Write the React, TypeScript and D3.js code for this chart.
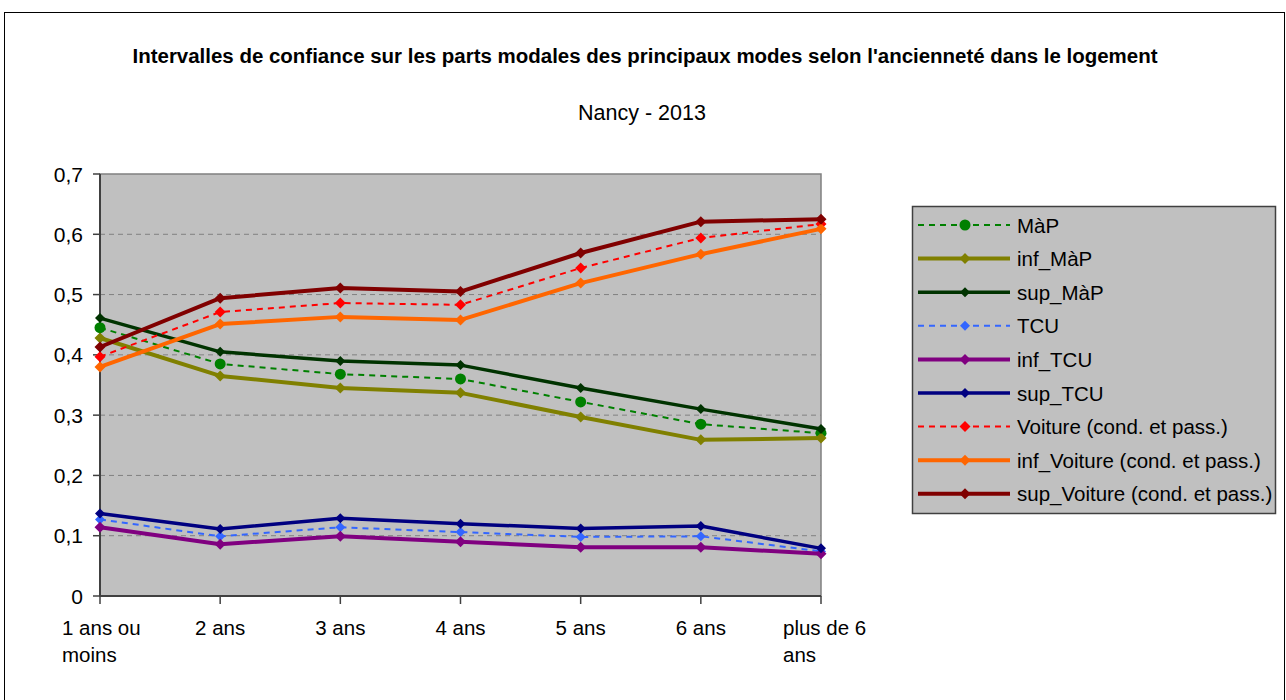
import React from "react";
import * as d3 from "d3";

const categories = ["1 ans ou\nmoins", "2 ans", "3 ans", "4 ans", "5 ans", "6 ans", "plus de 6\nans"];

const mapVals = [0.445, 0.385, 0.368, 0.36, 0.322, 0.285, 0.27];
const infMapVals = [0.428, 0.365, 0.345, 0.337, 0.297, 0.259, 0.262];
const supMapVals = [0.461, 0.405, 0.39, 0.383, 0.345, 0.31, 0.277];
const tcuVals = [0.127, 0.099, 0.114, 0.106, 0.098, 0.099, 0.074];
const infTcuVals = [0.114, 0.086, 0.099, 0.09, 0.081, 0.081, 0.07];
const supTcuVals = [0.137, 0.111, 0.129, 0.12, 0.112, 0.116, 0.079];
const voitureVals = [0.397, 0.471, 0.486, 0.483, 0.544, 0.594, 0.617];
const infVoitureVals = [0.38, 0.451, 0.463, 0.458, 0.519, 0.567, 0.609];
const supVoitureVals = [0.413, 0.494, 0.511, 0.505, 0.569, 0.621, 0.625];

const yTicks = [0, 0.1, 0.2, 0.3, 0.4, 0.5, 0.6, 0.7];

type Series = {
  name: string;
  values: number[];
  color: string;
  dashed: boolean;
  width: number;
  marker: "circle" | "diamond";
  msize: number;
};

const series: Series[] = [
  { name: "MàP", values: mapVals, color: "#008000", dashed: true, width: 2, marker: "circle", msize: 5.5 },
  { name: "inf_MàP", values: infMapVals, color: "#808000", dashed: false, width: 4, marker: "diamond", msize: 5.5 },
  { name: "sup_MàP", values: supMapVals, color: "#003300", dashed: false, width: 3.5, marker: "diamond", msize: 5 },
  { name: "TCU", values: tcuVals, color: "#3366FF", dashed: true, width: 2, marker: "diamond", msize: 5 },
  { name: "inf_TCU", values: infTcuVals, color: "#800080", dashed: false, width: 4, marker: "diamond", msize: 5.5 },
  { name: "sup_TCU", values: supTcuVals, color: "#000080", dashed: false, width: 3.5, marker: "diamond", msize: 5 },
  { name: "Voiture (cond. et pass.)", values: voitureVals, color: "#FF0000", dashed: true, width: 2, marker: "diamond", msize: 5.5 },
  { name: "inf_Voiture (cond. et pass.)", values: infVoitureVals, color: "#FF6600", dashed: false, width: 4, marker: "diamond", msize: 5.5 },
  { name: "sup_Voiture (cond. et pass.)", values: supVoitureVals, color: "#800000", dashed: false, width: 4, marker: "diamond", msize: 5.5 },
];

const W = 1286;
const H = 700;
const PLOT = { left: 100, right: 821, top: 174, bottom: 596 };
const FONT = "'Liberation Sans', Arial, sans-serif";

function Marker({ s, x, y }: { s: Series; x: number; y: number }) {
  if (s.marker === "circle") return <circle cx={x} cy={y} r={s.msize} fill={s.color} />;
  const m = s.msize;
  return <path d={`M${x},${y - m}L${x + m},${y}L${x},${y + m}L${x - m},${y}Z`} fill={s.color} />;
}

export default function App() {
  const x = d3
    .scalePoint<string>()
    .domain(categories)
    .range([PLOT.left, PLOT.right]);
  const y = d3.scaleLinear().domain([0, 0.7]).range([PLOT.bottom, PLOT.top]);
  const fmt = (v: number) => (v === 0 ? "0" : d3.format(".1f")(v).replace(".", ","));

  const legend = { x: 912, y: 206, w: 363, h: 307, row: 33.6 };

  return (
    <svg
      width={W}
      height={H}
      style={{ position: "absolute", left: 0, top: 0, background: "#fff" }}
      fontFamily={FONT}
    >
      <rect x={4.5} y={12.5} width={1280} height={700} fill="#fff" stroke="#000" strokeWidth={1} />

      <text
        x={645}
        y={63}
        textAnchor="middle"
        fontWeight="bold"
        fontSize={19.5}
        textLength={1025}
        lengthAdjust="spacingAndGlyphs"
      >
        Intervalles de confiance sur les parts modales des principaux modes selon l'ancienneté dans le logement
      </text>
      <text x={642} y={120} textAnchor="middle" fontSize={21.5}>
        Nancy - 2013
      </text>

      {/* plot area */}
      <rect
        x={PLOT.left}
        y={PLOT.top}
        width={PLOT.right - PLOT.left}
        height={PLOT.bottom - PLOT.top}
        fill="#C0C0C0"
        stroke="#808080"
        strokeWidth={1.5}
      />
      {yTicks
        .filter((t) => t > 0 && t < 0.7)
        .map((t) => (
          <line
            key={t}
            x1={PLOT.left}
            x2={PLOT.right}
            y1={y(t)}
            y2={y(t)}
            stroke="#808080"
            strokeWidth={1}
            strokeDasharray="5 4"
          />
        ))}

      {/* axes */}
      <line x1={PLOT.left} x2={PLOT.left} y1={PLOT.top} y2={PLOT.bottom} stroke="#404040" strokeWidth={2} />
      <line x1={PLOT.left} x2={PLOT.right} y1={PLOT.bottom} y2={PLOT.bottom} stroke="#404040" strokeWidth={2} />
      {yTicks.map((t) => (
        <g key={t}>
          <line x1={PLOT.left - 7} x2={PLOT.left} y1={y(t)} y2={y(t)} stroke="#404040" strokeWidth={1.5} />
          <text x={PLOT.left - 17} y={y(t) + 7.5} textAnchor="end" fontSize={21}>
            {fmt(t)}
          </text>
        </g>
      ))}
      {categories.map((c) => {
        const cx = x(c)!;
        const lines = c.split("\n");
        return (
          <g key={c}>
            <line x1={cx} x2={cx} y1={PLOT.bottom} y2={PLOT.bottom + 8} stroke="#404040" strokeWidth={1.5} />
            {lines.map((l, i) => (
              <text
                key={i}
                x={lines.length > 1 ? cx - 38 : cx}
                y={PLOT.bottom + 39 + i * 27}
                textAnchor={lines.length > 1 ? "start" : "middle"}
                fontSize={20.5}
              >
                {l}
              </text>
            ))}
          </g>
        );
      })}

      {/* series */}
      {series.map((s) => {
        const line = d3
          .line<number>()
          .x((_, i) => x(categories[i])!)
          .y((d) => y(d));
        return (
          <g key={s.name}>
            <path
              d={line(s.values) || ""}
              fill="none"
              stroke={s.color}
              strokeWidth={s.width}
              strokeDasharray={s.dashed ? "6 5" : undefined}
              strokeLinejoin="round"
            />
            {s.values.map((v, i) => (
              <Marker key={i} s={s} x={x(categories[i])!} y={y(v)} />
            ))}
          </g>
        );
      })}

      {/* legend */}
      <rect
        x={legend.x + 0.5}
        y={legend.y + 0.5}
        width={legend.w}
        height={legend.h}
        fill="#C0C0C0"
        stroke="#404040"
        strokeWidth={1.5}
      />
      {series.map((s, i) => {
        const ly = legend.y + 19 + i * legend.row;
        return (
          <g key={s.name}>
            <line
              x1={918}
              x2={1010}
              y1={ly}
              y2={ly}
              stroke={s.color}
              strokeWidth={s.width}
              strokeDasharray={s.dashed ? "6 5" : undefined}
            />
            <Marker s={s} x={965} y={ly} />
            <text x={1017} y={ly + 7.5} fontSize={20.5}>
              {s.name}
            </text>
          </g>
        );
      })}
    </svg>
  );
}
